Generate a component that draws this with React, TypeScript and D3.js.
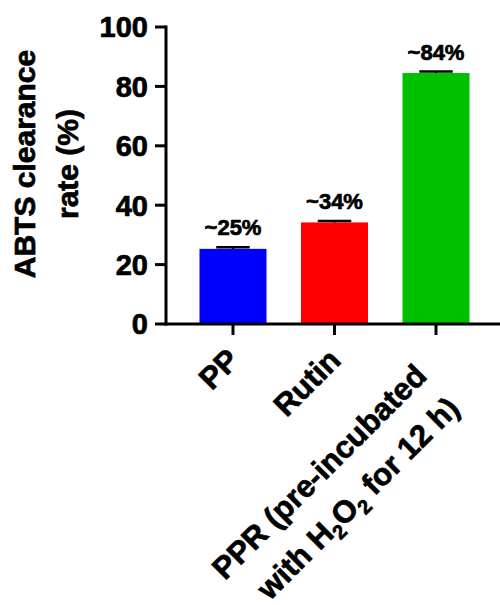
import React from "react";
import * as d3 from "d3";

// values
const categories = ["PP", "Rutin", "PPR"];
const means = [25.3, 34.2, 84.5];
const sds = [0.5, 0.5, 0.5];
const barLabels = ["~25%", "~34%", "~84%"];
const yTicks = [0, 20, 40, 60, 80, 100];

// x labels, split in lines and pieces (sub = subscript)
const xLabelLines = [
  [[{ t: "PP" }]],
  [[{ t: "Rutin" }]],
  [
    [{ t: "PPR (pre-incubated" }],
    [{ t: "with H" }, { t: "2", sub: true }, { t: "O" }, { t: "2", sub: true }, { t: " for 12 h)" }],
  ],
];

const colors = ["#0000ff", "#ff0000", "#00c000"];
const font = "'Liberation Sans', Arial, Helvetica, sans-serif";

const W = 500;
const H = 605;
const axisLeft = 166;
const axisBottom = 324;

const App = () => {
  const x = d3.scaleBand<string>()
    .domain(categories)
    .range([axisLeft, 503])
    .paddingInner(0.34)
    .paddingOuter(0.33);

  const y = d3.scaleLinear()
    .domain([0, 100])
    .range([axisBottom, 27]);

  const capW = x.bandwidth() / 2;

  return (
    <svg width={W} height={H} style={{ position: "absolute", left: 0, top: 0, background: "#fff" }}
      fontFamily={font} fontWeight="bold">
      {/* bars */}
      {categories.map((c, i) => (
        <rect key={c} x={x(c)} y={y(means[i])} width={x.bandwidth()}
          height={y(0) - y(means[i])} fill={colors[i]} />
      ))}

      {/* error bars (upper only) */}
      {categories.map((c, i) => {
        const cx = x(c)! + x.bandwidth() / 2;
        return (
          <g key={c} stroke="#000" strokeWidth={2.5}>
            <line x1={cx} x2={cx} y1={y(means[i])} y2={y(means[i] + sds[i])} />
            <line x1={cx - capW / 2} x2={cx + capW / 2} y1={y(means[i] + sds[i])} y2={y(means[i] + sds[i])} />
          </g>
        );
      })}

      <g stroke="#000" strokeWidth={0.7}>
        {/* value labels */}
        {categories.map((c, i) => (
          <text key={c} x={x(c)! + x.bandwidth() / 2} y={y(means[i] + sds[i]) - 12}
            textAnchor="middle" fontSize={22}>{barLabels[i]}</text>
        ))}

        {/* y tick labels */}
        {yTicks.map(t => (
          <text key={t} x={axisLeft - 18} y={y(t)} dy="0.36em" textAnchor="end" fontSize={29}>{t}</text>
        ))}

        {/* x labels */}
        {categories.map((c, i) => {
          const cx = x(c)! + x.bandwidth() / 2;
          const lines = xLabelLines[i];
          const shift = lines.length > 1 ? -22 : 0;
          return (
            <g key={c} transform={`translate(${cx + 8},${axisBottom + 38}) rotate(-45)`}>
              {lines.map((parts, li) => (
                <text key={li} x={shift} y={li * 46} textAnchor="end" fontSize={31}>
                  {parts.map((p, pi) => p.sub
                    ? <tspan key={pi} fontSize={20} dy={7}>{p.t}</tspan>
                    : <tspan key={pi} dy={pi > 0 && parts[pi - 1].sub ? -7 : 0}>{p.t}</tspan>)}
                </text>
              ))}
            </g>
          );
        })}

        {/* y axis title */}
        <g transform="translate(35,164) rotate(-90)">
          <text textAnchor="middle" fontSize={30}>ABTS clearance</text>
          <text y={43} textAnchor="middle" fontSize={30}>rate (%)</text>
        </g>
      </g>

      {/* y axis */}
      <line x1={axisLeft} x2={axisLeft} y1={y(100) - 1.5} y2={axisBottom + 1.5} stroke="#000" strokeWidth={3} />
      {yTicks.map(t => (
        <line key={t} x1={axisLeft - 11} x2={axisLeft} y1={y(t)} y2={y(t)} stroke="#000" strokeWidth={3} />
      ))}

      {/* x axis */}
      <line x1={axisLeft - 1.5} x2={W} y1={axisBottom} y2={axisBottom} stroke="#000" strokeWidth={3} />
      {categories.map(c => {
        const cx = x(c)! + x.bandwidth() / 2;
        return <line key={c} x1={cx} x2={cx} y1={axisBottom} y2={axisBottom + 11} stroke="#000" strokeWidth={3} />;
      })}
    </svg>
  );
};

export default App;
